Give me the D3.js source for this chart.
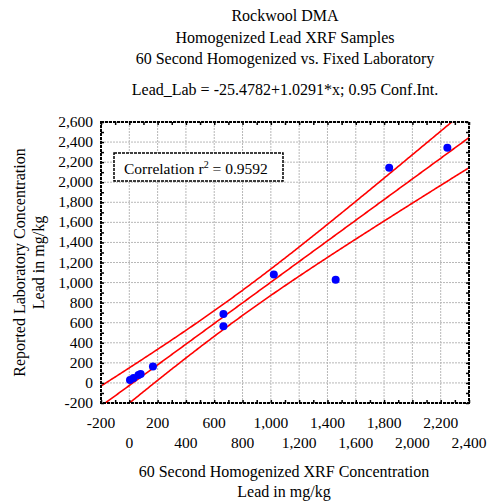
<html>
<head>
<meta charset="utf-8">
<style>
    body { margin: 0; background: #ffffff; }
    svg { font-family: "Liberation Serif", "Times New Roman", serif; }
</style>
<script src="https://cdn.jsdelivr.net/npm/d3@7"></script>
</head>
<body>
<svg id="Grafico"></svg>
<script>
    // datos
    const titulos = ["Rockwool DMA", "Homogenized Lead XRF Samples", "60 Second Homogenized vs. Fixed Laboratory"];
    const ecuacion = "Lead_Lab = -25.4782+1.0291*x; 0.95 Conf.Int.";
    const xrf         = [5, 30, 65, 80, 167, 665, 665, 1021, 1458, 1836, 2247];
    const laboratorio = [30, 50, 80, 90, 164, 688, 564, 1081, 1027, 2145, 2344];
    const intercepto = -25.4782;
    const pendiente = 1.0291;
    const r2 = 0.9592;
    const ticksX = [-200, 0, 200, 400, 600, 800, 1000, 1200, 1400, 1600, 1800, 2000, 2200, 2400];
    const ticksY = [-200, 0, 200, 400, 600, 800, 1000, 1200, 1400, 1600, 1800, 2000, 2200, 2400, 2600];
    const tituloX = ["60 Second Homogenized XRF Concentration", "Lead in mg/kg"];
    const tituloY = ["Reported Laboratory Concentration", "Lead in mg/kg"];

    const ancho = 489, alto = 501;
    const margenes = { top: 122, bottom: 98, left: 101, right: 20 };

    let svg = d3.select("#Grafico").attr("width", ancho).attr("height", alto);

    let escalaX = d3.scaleLinear()
        .domain([-200, 2400])
        .range([margenes.left, ancho - margenes.right]);
    let escalaY = d3.scaleLinear()
        .domain([-200, 2600])
        .range([alto - margenes.bottom, margenes.top]);

    // separador de miles y guion normal como signo menos
    const formato = d => d3.format(",")(d).replace("\u2212", "-");

    // titulos
    svg.selectAll(".titulo")
        .data(titulos)
        .enter().append("text")
            .attr("x", 285)
            .attr("y", (d, i) => 21 + i * 21.5)
            .attr("text-anchor", "middle")
            .attr("font-size", 16)
            .text(d => d);

    svg.append("text")
        .attr("x", 285).attr("y", 95)
        .attr("text-anchor", "middle")
        .attr("font-size", 16)
        .text(ecuacion);

    // rejilla
    let rejilla = svg.append("g")
        .attr("stroke", "#b8b8b8")
        .attr("stroke-dasharray", "2,1")
        .attr("stroke-width", 1);

    rejilla.selectAll(".vx")
        .data(ticksX)
        .enter().append("line")
            .attr("x1", d => escalaX(d)).attr("x2", d => escalaX(d))
            .attr("y1", escalaY.range()[0]).attr("y2", escalaY.range()[1]);

    rejilla.selectAll(".hy")
        .data(ticksY)
        .enter().append("line")
            .attr("y1", d => escalaY(d)).attr("y2", d => escalaY(d))
            .attr("x1", escalaX.range()[0]).attr("x2", escalaX.range()[1]);

    // recta de regresion y banda de confianza al 95%
    let n = xrf.length;
    let mediaX = d3.mean(xrf);
    let sxx = d3.sum(xrf, x => (x - mediaX) * (x - mediaX));
    let sse = d3.sum(xrf, (x, i) => {
        let r = laboratorio[i] - (intercepto + pendiente * x);
        return r * r;
    });
    let gl = n - 2;
    let s = Math.sqrt(sse / gl);
    // cuantil t(0.975) aproximado (Cornish-Fisher)
    let z = 1.959964;
    let t = z + (z ** 3 + z) / (4 * gl)
        + (5 * z ** 5 + 16 * z ** 3 + 3 * z) / (96 * gl * gl)
        + (3 * z ** 7 + 19 * z ** 5 + 17 * z ** 3 - 15 * z) / (384 * gl ** 3);

    let xs = d3.range(-250, 2451, 10);
    let curva = xs.map(x => {
        let yhat = intercepto + pendiente * x;
        let h = t * s * Math.sqrt(1 / n + (x - mediaX) * (x - mediaX) / sxx);
        return { x, centro: yhat, sup: yhat + h, inf: yhat - h };
    });

    svg.append("clipPath").attr("id", "recorte")
        .append("rect")
            .attr("x", escalaX.range()[0]).attr("y", escalaY.range()[1])
            .attr("width", escalaX.range()[1] - escalaX.range()[0])
            .attr("height", escalaY.range()[0] - escalaY.range()[1]);

    let lineas = svg.append("g").attr("clip-path", "url(#recorte)");
    ["sup", "centro", "inf"].forEach(clave => {
        lineas.append("path")
            .datum(curva)
            .attr("fill", "none")
            .attr("stroke", "#ff0000")
            .attr("stroke-width", 1.6)
            .attr("d", d3.line().x(d => escalaX(d.x)).y(d => escalaY(d[clave])));
    });

    // puntos
    svg.append("g").selectAll("circle")
        .data(xrf.map((x, i) => ({ x, y: laboratorio[i] })))
        .enter().append("circle")
            .attr("cx", d => escalaX(d.x))
            .attr("cy", d => escalaY(d.y))
            .attr("r", 4)
            .attr("fill", "#0000ff");

    // marco con marcas menores
    let marco = svg.append("g");
    marco.append("rect")
        .attr("x", escalaX.range()[0]).attr("y", escalaY.range()[1])
        .attr("width", escalaX.range()[1] - escalaX.range()[0])
        .attr("height", escalaY.range()[0] - escalaY.range()[1])
        .attr("fill", "none")
        .attr("stroke", "#000")
        .attr("stroke-width", 2)
        .attr("stroke-dasharray", "3,1");

    let ejeAbajo = d3.axisBottom(escalaX).ticks(26).tickSize(-3).tickFormat("");
    let ejeArriba = d3.axisTop(escalaX).ticks(26).tickSize(-3).tickFormat("");
    let ejeIzq = d3.axisLeft(escalaY).ticks(28).tickSize(-3).tickFormat("");
    let ejeDer = d3.axisRight(escalaY).ticks(28).tickSize(-3).tickFormat("");
    [[ejeAbajo, 0, escalaY.range()[0]], [ejeArriba, 0, escalaY.range()[1]],
     [ejeIzq, escalaX.range()[0], 0], [ejeDer, escalaX.range()[1], 0]].forEach(([eje, tx, ty]) => {
        let g = marco.append("g").attr("transform", `translate(${tx},${ty})`).call(eje);
        g.select(".domain").remove();
        g.selectAll("line").attr("stroke", "#000").attr("stroke-width", 1.5);
    });

    // etiquetas eje Y
    svg.append("g").selectAll("text")
        .data(ticksY)
        .enter().append("text")
            .attr("x", 93)
            .attr("y", d => escalaY(d) + 5)
            .attr("text-anchor", "end")
            .attr("font-size", 15.5)
            .text(d => formato(d));

    // etiquetas eje X en dos filas alternas
    svg.append("g").selectAll("text")
        .data(ticksX)
        .enter().append("text")
            .attr("x", d => escalaX(d))
            .attr("y", (d, i) => i % 2 === 0 ? 428 : 448)
            .attr("text-anchor", "middle")
            .attr("font-size", 15.5)
            .text(d => formato(d));

    // titulos de ejes
    svg.selectAll(".tx")
        .data(tituloX)
        .enter().append("text")
            .attr("x", 284)
            .attr("y", (d, i) => 477 + i * 20)
            .attr("text-anchor", "middle")
            .attr("font-size", 16)
            .text(d => d);

    let centroY = (escalaY.range()[0] + escalaY.range()[1]) / 2;
    svg.selectAll(".ty")
        .data(tituloY)
        .enter().append("text")
            .attr("transform", (d, i) => `translate(${25 + i * 19},${centroY}) rotate(-90)`)
            .attr("text-anchor", "middle")
            .attr("font-size", 16)
            .text(d => d);

    // caja de correlacion
    svg.append("rect")
        .attr("x", 114).attr("y", 153)
        .attr("width", 169).attr("height", 28)
        .attr("fill", "#fff")
        .attr("stroke", "#000")
        .attr("stroke-width", 1.5)
        .attr("stroke-dasharray", "3,1");

    let texto = svg.append("text")
        .attr("x", 124).attr("y", 174)
        .attr("font-size", 15.5);
    texto.append("tspan").text("Correlation r");
    texto.append("tspan").attr("dy", -6).attr("font-size", 10).text("2");
    texto.append("tspan").attr("dy", 6).text(" = " + r2.toFixed(4));
</script>
</body>
</html>
